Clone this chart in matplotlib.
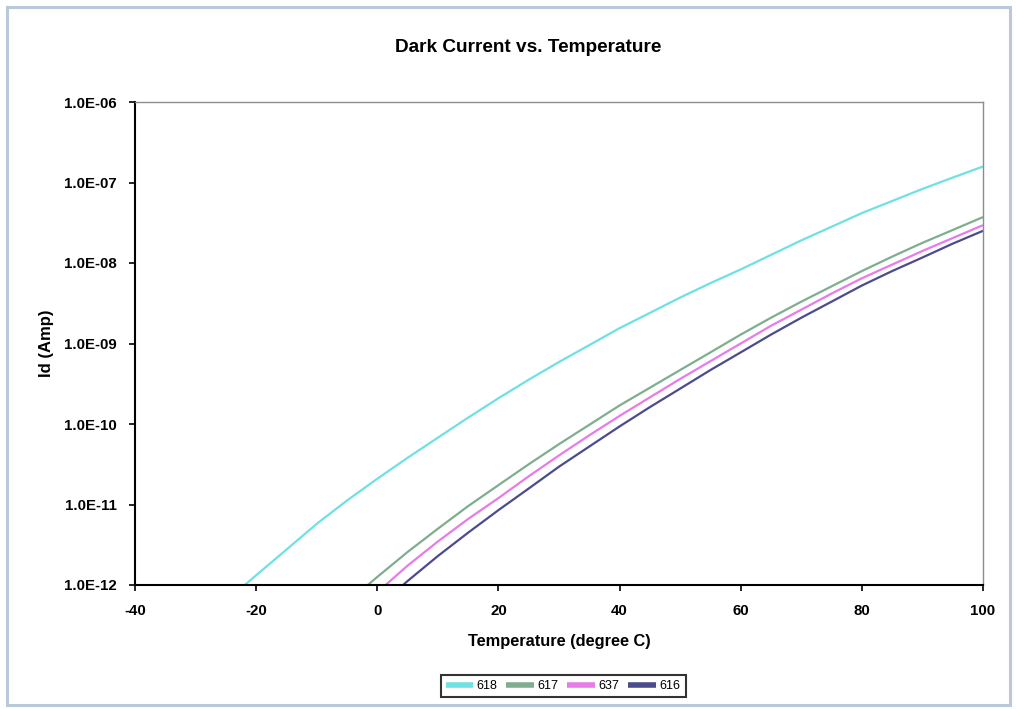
import math
import matplotlib
matplotlib.use("Agg")
import matplotlib.pyplot as plt
from matplotlib.patches import Rectangle
from matplotlib.ticker import FixedLocator, FuncFormatter, NullLocator

plt.rcParams['font.family'] = ['Liberation Sans', 'DejaVu Sans']

temps = [-25, -20, -15, -10, -5, 0, 5, 10, 15, 20, 25, 30, 35, 40, 45, 50,
         55, 60, 65, 70, 75, 80, 85, 90, 95, 100]
id_618 = [6.3e-13, 1.32e-12, 2.75e-12, 5.75e-12, 1.12e-11, 2.09e-11, 3.80e-11,
          6.76e-11, 1.20e-10, 2.09e-10, 3.55e-10, 5.89e-10, 9.55e-10, 1.55e-9,
          2.40e-9, 3.72e-9, 5.62e-9, 8.32e-9, 1.26e-8, 1.91e-8, 2.82e-8,
          4.17e-8, 5.89e-8, 8.32e-8, 1.15e-7, 1.58e-7]
id_617 = [None, None, None, None, 6.0e-13, 1.26e-12, 2.57e-12, 5.0e-12,
          9.55e-12, 1.74e-11, 3.16e-11, 5.62e-11, 9.77e-11, 1.70e-10, 2.82e-10,
          4.68e-10, 7.76e-10, 1.29e-9, 2.09e-9, 3.31e-9, 5.13e-9, 7.94e-9,
          1.20e-8, 1.78e-8, 2.57e-8, 3.72e-8]
id_637 = [None, None, None, None, 3.8e-13, 8.1e-13, 1.74e-12, 3.47e-12,
          6.61e-12, 1.20e-11, 2.24e-11, 4.07e-11, 7.24e-11, 1.26e-10, 2.14e-10,
          3.63e-10, 6.03e-10, 1.0e-9, 1.66e-9, 2.63e-9, 4.17e-9, 6.46e-9,
          9.55e-9, 1.41e-8, 2.04e-8, 2.95e-8]
id_616 = [None, None, None, None, None, 5.25e-13, 1.12e-12, 2.29e-12,
          4.47e-12, 8.51e-12, 1.58e-11, 2.95e-11, 5.25e-11, 9.33e-11, 1.62e-10,
          2.75e-10, 4.68e-10, 7.76e-10, 1.29e-9, 2.09e-9, 3.31e-9, 5.25e-9,
          7.94e-9, 1.17e-8, 1.74e-8, 2.51e-8]

series_names = ["618", "617", "637", "616"]
series_vals = [id_618, id_617, id_637, id_616]
colors = ["#6fe0e3", "#7fae8f", "#e77be8", "#4b4b8e"]

x_ticks = [-40, -20, 0, 20, 40, 60, 80, 100]
y_ticks = [1e-12, 1e-11, 1e-10, 1e-9, 1e-8, 1e-7, 1e-6]

fig = plt.figure(figsize=(10.16, 7.09), dpi=100)
fig.patch.set_facecolor("white")

# outer chart border
fig.patches.append(Rectangle((7 / 1016, 4 / 709), 1003 / 1016, 698 / 709,
                             transform=fig.transFigure, fill=False,
                             edgecolor="#b9c9d9", linewidth=2.2))

ax = fig.add_axes([135 / 1016, 1 - 585 / 709, 848 / 1016, 483 / 709])

for name, vals, c in zip(series_names, series_vals, colors):
    xs = [t for t, v in zip(temps, vals) if v is not None]
    ys = [v for v in vals if v is not None]
    ax.plot(xs, ys, color=c, linewidth=1.6, label=name, solid_capstyle="butt")

ax.set_yscale("log")
ax.set_xlim(-40, 100)
ax.set_ylim(1e-12, 1e-6)
ax.yaxis.set_major_locator(FixedLocator(y_ticks))
ax.yaxis.set_minor_locator(NullLocator())
ax.yaxis.set_major_formatter(FuncFormatter(
    lambda v, p: "1.0E-%02d" % round(-math.log10(v))))
ax.set_xticks(x_ticks)
ax.set_xticklabels([str(t) for t in x_ticks])

for lab in ax.get_xticklabels() + ax.get_yticklabels():
    lab.set_fontweight("bold")
    lab.set_fontsize(10.8)

ax.tick_params(axis="both", direction="out", length=4, width=1.2, color="black")
ax.tick_params(axis="y", pad=9)
ax.tick_params(axis="x", pad=10)

ax.spines["left"].set_color("black")
ax.spines["bottom"].set_color("black")
ax.spines["left"].set_linewidth(1.5)
ax.spines["bottom"].set_linewidth(1.5)
ax.spines["top"].set_color("#8c8c8c")
ax.spines["right"].set_color("#8c8c8c")
ax.spines["top"].set_linewidth(1.0)
ax.spines["right"].set_linewidth(1.0)

ax.set_xlabel("Temperature (degree C)", fontsize=11.8, fontweight="bold", labelpad=11)
ax.set_ylabel("Id (Amp)", fontsize=12, fontweight="bold", labelpad=7)

fig.text(528 / 1016, 1 - 48 / 709, "Dark Current vs. Temperature",
         ha="center", va="center", fontsize=13.7, fontweight="bold")

leg = fig.legend(loc="center", bbox_to_anchor=(563 / 1016, 1 - 686 / 709),
                 ncol=4, fontsize=9, frameon=True, fancybox=False,
                 handlelength=2.2, handletextpad=0.3, columnspacing=0.7,
                 borderpad=0.4, edgecolor="black")
leg.get_frame().set_linewidth(1.5)
for h in leg.get_lines():
    h.set_linewidth(4)

fig.savefig("out.png", dpi=100, facecolor="white")
